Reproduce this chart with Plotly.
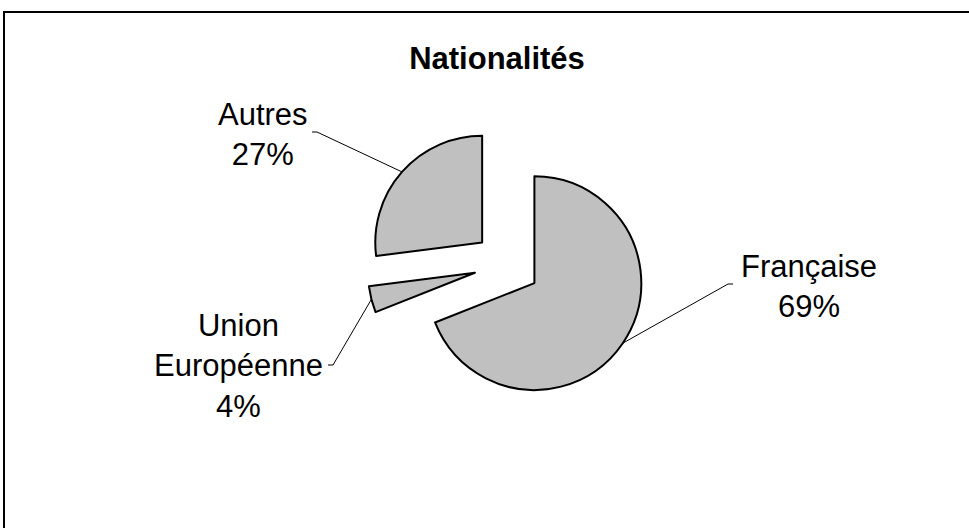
import numpy as np
import plotly.graph_objects as go

# data
labels = ['Française', 'Union Européenne', 'Autres']
values = [69, 4, 27]
label_lines = ['Française', 'Union<br>Européenne', 'Autres']

W, H = 969, 528
PULL = 0.31
FONT = 'Liberation Sans, Arial, sans-serif'

# pie domain (pixels) -> paper
dom_x = [367 / W, 647 / W]
dom_y = [1 - 404.5 / H, 1 - 124.5 / H]

fig = go.Figure(go.Pie(
    labels=labels,
    values=values,
    sort=False,
    direction='clockwise',
    rotation=0,
    pull=[PULL] * len(values),
    textinfo='none',
    hoverinfo='label+percent',
    marker=dict(colors=['#c0c0c0'] * len(values), line=dict(color='black', width=2)),
    domain=dict(x=dom_x, y=dom_y),
    showlegend=False,
))

# where the pie lands, same maths as plotly
pw = (dom_x[1] - dom_x[0]) * W
ph = (dom_y[1] - dom_y[0]) * H
R = min(pw, ph) / (2 + 2 * PULL)
cx = (dom_x[0] + dom_x[1]) / 2 * W
cy = (1 - (dom_y[0] + dom_y[1]) / 2) * H

# text block centres and leader line starts (pixels)
text_pos = [(809, 286), (238, 366), (263, 135)]
leader_start = [(733, 284), (328, 365), (312, 132)]
tick_dir = [-1, 1, 1]

total = sum(values)
start = 0.0
for i, v in enumerate(values):
    mid = np.radians((start + v / 2) / total * 360)
    start += v
    dx, dy = np.sin(mid), -np.cos(mid)
    hx = cx + (1 + PULL) * R * dx
    hy = cy + (1 + PULL) * R * dy
    tx, ty = text_pos[i]
    sx, sy = leader_start[i]
    kx = sx + 5 * tick_dir[i]
    pct = round(v / total * 100)
    fig.add_annotation(
        x=tx / W, y=1 - ty / H, xref='paper', yref='paper',
        xanchor='center', yanchor='middle',
        text=f'{label_lines[i]}<br>{pct}%',
        showarrow=False,
        font=dict(family=FONT, size=31, color='black'),
        align='center',
    )
    path = (f'M {sx / W} {1 - sy / H} L {kx / W} {1 - sy / H} '
            f'L {hx / W} {1 - hy / H}')
    fig.add_shape(type='path', xref='paper', yref='paper', path=path,
                  line=dict(color='black', width=1))

fig.add_shape(type='rect', xref='paper', yref='paper',
              x0=4 / W, x1=1.02, y0=-0.02, y1=1 - 12 / H,
              line=dict(color='black', width=2))

fig.update_layout(
    width=W, height=H,
    margin=dict(l=0, r=0, t=0, b=0),
    paper_bgcolor='white',
    plot_bgcolor='white',
    title=dict(text='<b>Nationalités</b>', x=497 / W, xanchor='center',
               y=1 - 58 / H, yanchor='middle', yref='container',
               font=dict(family=FONT, size=31, color='black')),
)

# page body margin would shift the chart by 8px
fig.write_html('out.html', config={'displayModeBar': False},
               post_script="document.body.style.margin='0';")
